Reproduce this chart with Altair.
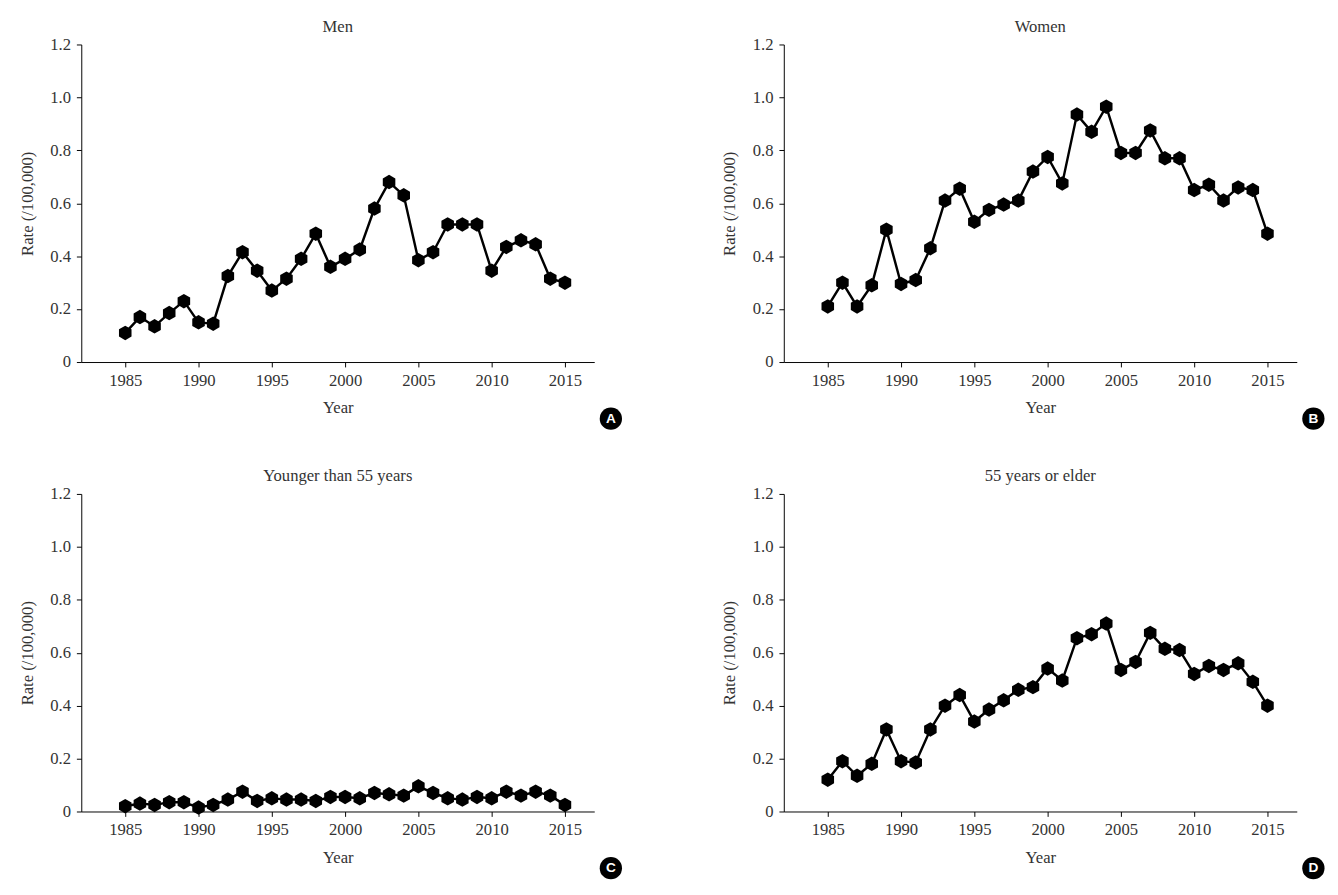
import numpy as np
import pandas as pd
import altair as alt

years = list(range(1985, 2016))

men = [0.11, 0.17, 0.135, 0.185, 0.23, 0.15, 0.145, 0.325, 0.415, 0.345,
       0.27, 0.315, 0.39, 0.485, 0.36, 0.39, 0.425, 0.58, 0.68, 0.63,
       0.385, 0.415, 0.52, 0.52, 0.52, 0.345, 0.435, 0.46, 0.445, 0.315, 0.30]
women = [0.21, 0.30, 0.21, 0.29, 0.50, 0.295, 0.31, 0.43, 0.61, 0.655,
         0.53, 0.575, 0.595, 0.61, 0.72, 0.775, 0.675, 0.935, 0.87, 0.965,
         0.79, 0.79, 0.875, 0.77, 0.77, 0.65, 0.67, 0.61, 0.66, 0.65, 0.485]
younger = [0.02, 0.03, 0.025, 0.035, 0.035, 0.015, 0.025, 0.045, 0.075, 0.04,
           0.05, 0.045, 0.045, 0.04, 0.055, 0.055, 0.05, 0.07, 0.065, 0.06,
           0.095, 0.07, 0.05, 0.045, 0.055, 0.05, 0.075, 0.06, 0.075, 0.06, 0.025]
elder = [0.12, 0.19, 0.135, 0.18, 0.31, 0.19, 0.185, 0.31, 0.40, 0.44,
         0.34, 0.385, 0.42, 0.46, 0.47, 0.54, 0.495, 0.655, 0.67, 0.71,
         0.535, 0.565, 0.675, 0.615, 0.61, 0.52, 0.55, 0.535, 0.56, 0.49, 0.40]

FONT = "Liberation Serif"
HEX = "M0,-1L0.866,-0.5L0.866,0.5L0,1L-0.866,0.5L-0.866,-0.5Z"
W, H = 525, 325


def panel(values, title, letter):
    df = pd.DataFrame({"year": years, "rate": values})
    base = alt.Chart(df).encode(
        x=alt.X("year:Q", scale=alt.Scale(domain=[1982, 2017], nice=False, zero=False),
                axis=alt.Axis(values=list(range(1985, 2016, 5)), format="d", title="Year",
                              titlePadding=12)),
        y=alt.Y("rate:Q", scale=alt.Scale(domain=[0, 1.2], nice=False),
                axis=alt.Axis(values=[0, 0.2, 0.4, 0.6, 0.8, 1.0, 1.2],
                              labelExpr="datum.value == 0 ? '0' : format(datum.value, '.1f')",
                              title="Rate (/100,000)", titlePadding=14)),
    )
    line = base.mark_line(color="black", strokeWidth=2.5)
    pts = base.mark_point(shape=HEX, filled=True, color="black", size=220, opacity=1)
    one = pd.DataFrame({"k": [letter], "t": [title]})
    head = alt.Chart(one).mark_text(color="#333", font=FONT, fontSize=17,
                                    baseline="middle").encode(
        x=alt.value(W / 2), y=alt.value(-18), text="t:N")
    badge = alt.Chart(one).mark_point(shape="circle", filled=True, color="black",
                                      size=520, opacity=1).encode(
        x=alt.value(W + 17), y=alt.value(H + 58))
    lab = alt.Chart(one).mark_text(color="white", font="Arial", fontWeight="bold",
                                   fontSize=14, baseline="middle").encode(
        x=alt.value(W + 17), y=alt.value(H + 58), text="k:N")
    return alt.layer(line, pts, head, badge, lab).properties(width=W, height=H)


top = alt.hconcat(panel(men, "Men", "A"), panel(women, "Women", "B"), spacing=100)
bot = alt.hconcat(panel(younger, "Younger than 55 years", "C"),
                  panel(elder, "55 years or elder", "D"), spacing=100)
chart = alt.vconcat(top, bot, spacing=38).configure_view(stroke=None).configure_axis(
    grid=False, domainColor="black", tickColor="black", labelColor="#333",
    titleColor="#333", labelFont=FONT, titleFont=FONT, labelFontSize=17,
    titleFontSize=17, titleFontWeight="normal", labelPadding=6, tickSize=5
).properties(padding={"left": 10, "top": 0, "right": 5, "bottom": 0})

chart.save("out.html", embed_options={"renderer": "svg", "actions": False})
